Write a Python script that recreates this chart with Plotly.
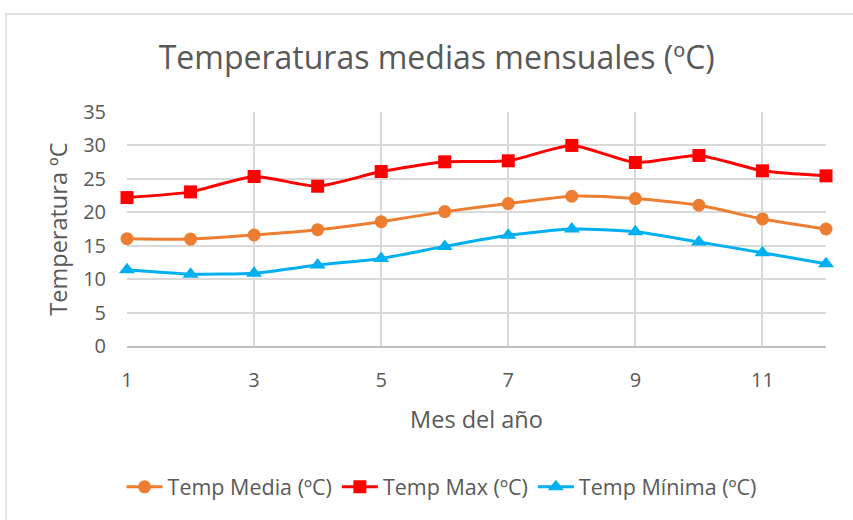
import plotly.graph_objects as go

meses = list(range(1, 13))
temp_media = [16.05, 16.0, 16.6, 17.4, 18.6, 20.1, 21.3, 22.4, 22.05, 21.05, 19.0, 17.5]
temp_max = [22.2, 23.05, 25.35, 23.9, 26.1, 27.55, 27.7, 30.0, 27.45, 28.5, 26.2, 25.45]
temp_min = [11.4, 10.75, 10.9, 12.1, 13.1, 14.9, 16.55, 17.5, 17.1, 15.55, 13.95, 12.3]

x_ticks = [1, 3, 5, 7, 9, 11]
y_ticks = [0, 5, 10, 15, 20, 25, 30, 35]

FONT = "Open Sans"
TXT = "#595959"

fig = go.Figure()
series = [
    ("Temp Media (ºC)", temp_media, "#ED7D31", "circle", 13),
    ("Temp Max (ºC)", temp_max, "#FF0000", "square", 13),
    ("Temp Mínima (ºC)", temp_min, "#00B0F0", "triangle-up", 14),
]
for name, ys, col, sym, sz in series:
    fig.add_trace(go.Scatter(
        x=meses, y=ys, name=name, mode="lines+markers",
        line=dict(color=col, width=3, shape="spline", smoothing=0.6),
        marker=dict(symbol=sym, size=sz, color=col),
        cliponaxis=False,
    ))

fig.update_layout(
    width=853, height=520,
    margin=dict(l=127, r=27, t=112, b=171),
    paper_bgcolor="white", plot_bgcolor="white",
    font=dict(family=FONT, color=TXT),
    title=dict(text="Temperaturas medias mensuales (ºC)", x=0.512, xanchor="center",
               y=0.888, yanchor="middle", font=dict(size=32, color=TXT, family=FONT)),
    legend=dict(orientation="h", x=0.45, xanchor="center", y=-0.602, yanchor="middle",
                font=dict(size=21.5, color=TXT, family=FONT), itemwidth=36,
                tracegroupgap=0),
    showlegend=True,
)
fig.update_xaxes(
    range=[1, 12], tickvals=x_ticks, showgrid=True, gridcolor="#D9D9D9", gridwidth=1.5,
    zeroline=False, showline=True, linecolor="#BFBFBF", linewidth=1.5,
    ticks="", tickfont=dict(size=20, color=TXT, family=FONT), ticklabelstandoff=15,
    title=dict(text="Mes del año", font=dict(size=23.5, color=TXT, family=FONT), standoff=20),
)
fig.update_yaxes(
    range=[0, 35], tickvals=y_ticks, showgrid=True, gridcolor="#D9D9D9", gridwidth=1.5,
    zeroline=False, showline=False, ticks="",
    tickfont=dict(size=20, color=TXT, family=FONT), ticklabelstandoff=20,
    title=dict(text="Temperatura ºC", font=dict(size=23.5, color=TXT, family=FONT), standoff=8),
)
fig.add_shape(type="rect", xref="paper", yref="paper",
              x0=-0.173, x1=1.06, y0=-0.8, y1=1.419,
              line=dict(color="#D9D9D9", width=1.5), fillcolor="rgba(0,0,0,0)", layer="below")

fig.write_html("out.html", config={"displayModeBar": False},
               post_script="document.body.style.margin='0';")
